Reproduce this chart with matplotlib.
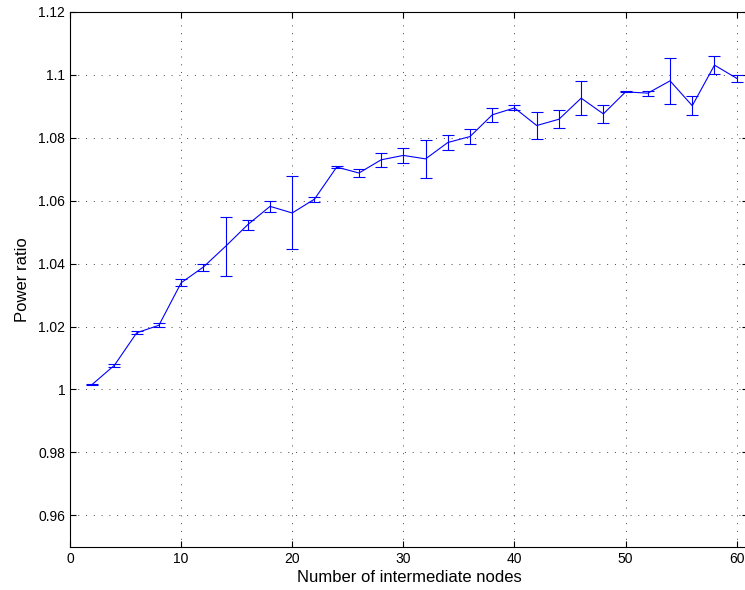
import numpy as np
import matplotlib
matplotlib.use("Agg")
from matplotlib import pyplot as plt

plt.rcParams['font.family'] = ['Liberation Sans', 'DejaVu Sans']

# number of intermediate nodes
nodes = [2, 4, 6, 8, 10, 12, 14, 16, 18, 20,
         22, 24, 26, 28, 30, 32, 34, 36, 38, 40,
         42, 44, 46, 48, 50, 52, 54, 56, 58, 60]

# mean power ratio
ratio = [1.0016, 1.0077, 1.0180, 1.0204, 1.0339, 1.0389, 1.0455, 1.0524, 1.0582, 1.0561,
         1.0605, 1.0707, 1.0688, 1.0730, 1.0744, 1.0733, 1.0785, 1.0804, 1.0873, 1.0895,
         1.0839, 1.0859, 1.0926, 1.0876, 1.0946, 1.0942, 1.0981, 1.0902, 1.1031, 1.0989]

# half-width of the error bars
err = [0.0002, 0.0005, 0.0005, 0.0006, 0.0011, 0.0011, 0.0093, 0.0016, 0.0018, 0.0116,
       0.0008, 0.0002, 0.0014, 0.0023, 0.0024, 0.0060, 0.0023, 0.0025, 0.0023, 0.0008,
       0.0043, 0.0028, 0.0053, 0.0028, 0.0002, 0.0008, 0.0074, 0.0030, 0.0028, 0.0011]

fig = plt.figure(figsize=(7.45, 5.9), dpi=100)
ax = fig.add_axes([0.094, 0.0734, 0.9098, 0.9063])

ax.errorbar(nodes, ratio, yerr=err, color='#0000ff', lw=0.8,
            elinewidth=0.8, capsize=4.3, capthick=0.8)

ax.set_xlim(0, 61)
ax.set_ylim(0.95, 1.12)
ax.set_xticks(np.arange(0, 61, 10))
ax.set_yticks([0.96, 0.98, 1.0, 1.02, 1.04, 1.06, 1.08, 1.1, 1.12])
ax.set_yticklabels(['0.96', '0.98', '1', '1.02', '1.04', '1.06', '1.08', '1.1', '1.12'])

ax.grid(True, linestyle=(0, (1, 7)), color='#444444', lw=0.7)
ax.tick_params(direction='in', top=True, right=True, labelsize=10, length=4, width=0.8)
for s in ax.spines.values():
    s.set_linewidth(0.8)

ax.set_xlabel('Number of intermediate nodes', fontsize=12, labelpad=3)
ax.set_ylabel('Power ratio', fontsize=12, labelpad=6)

fig.savefig('out.png', dpi=100)
